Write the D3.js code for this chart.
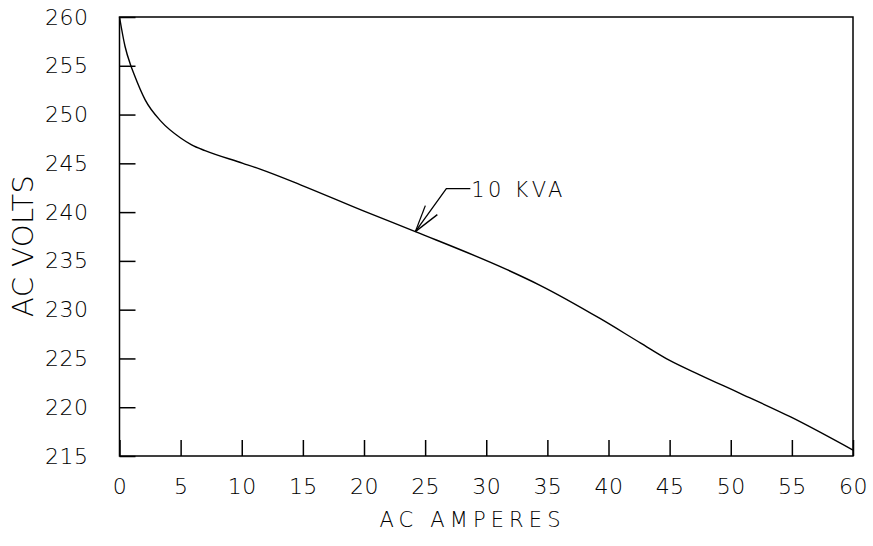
<!DOCTYPE html>
<meta charset="utf-8">
<style>
body { margin: 0; background: #fff; }
text { font-family: "DejaVu Sans", sans-serif; font-weight: 200; fill: #000; }
.axis text { font-size: 22px; letter-spacing: 0.5px; }
.axis line { stroke: #000; stroke-width: 1.5; }
.axis path { display: none; }
</style>
<body>
<svg id="chart" width="873" height="546"></svg>
<script src="https://d3js.org/d3.v7.min.js"></script>
<script>
// curve
var amps  = [0, 0.45, 0.9, 1.2, 2.1, 3.4, 5.0, 5.9, 7.0, 10.1, 11.5, 14.8, 20, 24.2, 31.7, 34.4, 39.3, 42.6, 45.0, 47.5, 50.8, 54.9, 60];
var volts = [260, 257.0, 255.1, 254.1, 251.5, 249.3, 247.6, 246.9, 246.3, 245.0, 244.4, 242.8, 240.1, 238.0, 234.1, 232.5, 229.1, 226.6, 224.8, 223.3, 221.4, 219.0, 215.6];

var xTicks = [0, 5, 10, 15, 20, 25, 30, 35, 40, 45, 50, 55, 60];
var yTicks = [215, 220, 225, 230, 235, 240, 245, 250, 255, 260];

var kvaLabel = "10 KVA";
var kvaAt = [24.2, 238.0];

var svg = d3.select("#chart"),
    plotL = 119.5, plotR = 853, plotT = 17, plotB = 456;

var x = d3.scaleLinear().domain([0, 60]).range([plotL, plotR]);
var y = d3.scaleLinear().domain([215, 260]).range([plotB, plotT]);

// frame
svg.append("rect")
    .attr("x", plotL).attr("y", plotT)
    .attr("width", plotR - plotL).attr("height", plotB - plotT)
    .attr("fill", "none").attr("stroke", "#000").attr("stroke-width", 1.5);

// axes, ticks pointing inward
svg.append("g")
    .attr("class", "axis")
    .attr("transform", "translate(0," + plotB + ")")
    .call(d3.axisBottom(x).tickValues(xTicks).tickSizeInner(-16).tickSizeOuter(0).tickPadding(22));

svg.append("g")
    .attr("class", "axis")
    .attr("transform", "translate(" + plotL + ",0)")
    .call(d3.axisLeft(y).tickValues(yTicks).tickSizeInner(-16).tickSizeOuter(0).tickPadding(31));

// axis titles
svg.append("text")
    .attr("x", 470).attr("y", 527)
    .attr("text-anchor", "middle")
    .attr("font-size", 21)
    .attr("textLength", 181).attr("lengthAdjust", "spacing")
    .text("AC AMPERES");

svg.append("text")
    .attr("transform", "translate(33,246) rotate(-90)")
    .attr("text-anchor", "middle")
    .attr("font-size", 29)
    .attr("textLength", 142).attr("lengthAdjust", "spacing")
    .text("AC VOLTS");

// the curve
var pts = amps.map(function(a, i) { return [a, volts[i]]; });
var line = d3.line()
    .x(function(d) { return x(d[0]); })
    .y(function(d) { return y(d[1]); })
    .curve(d3.curveMonotoneX);

svg.append("path")
    .datum(pts)
    .attr("d", line)
    .attr("fill", "none")
    .attr("stroke", "#000")
    .attr("stroke-width", 1.4);

// leader arrow with label
var tx = x(kvaAt[0]), ty = y(kvaAt[1]);
var ann = svg.append("g").attr("stroke", "#000").attr("stroke-width", 1.3).attr("fill", "none");
ann.append("path").attr("d", "M" + tx + "," + ty + "L" + (tx + 31) + "," + (ty - 43) + "H" + (tx + 55));
ann.append("path").attr("d", "M" + tx + "," + ty + "L" + (tx + 10) + "," + (ty - 26));
ann.append("path").attr("d", "M" + tx + "," + ty + "L" + (tx + 22) + "," + (ty - 17));

svg.append("text")
    .attr("x", tx + 56).attr("y", ty - 35)
    .attr("font-size", 21)
    .attr("textLength", 91).attr("lengthAdjust", "spacing")
    .text(kvaLabel);
</script>
</body>
